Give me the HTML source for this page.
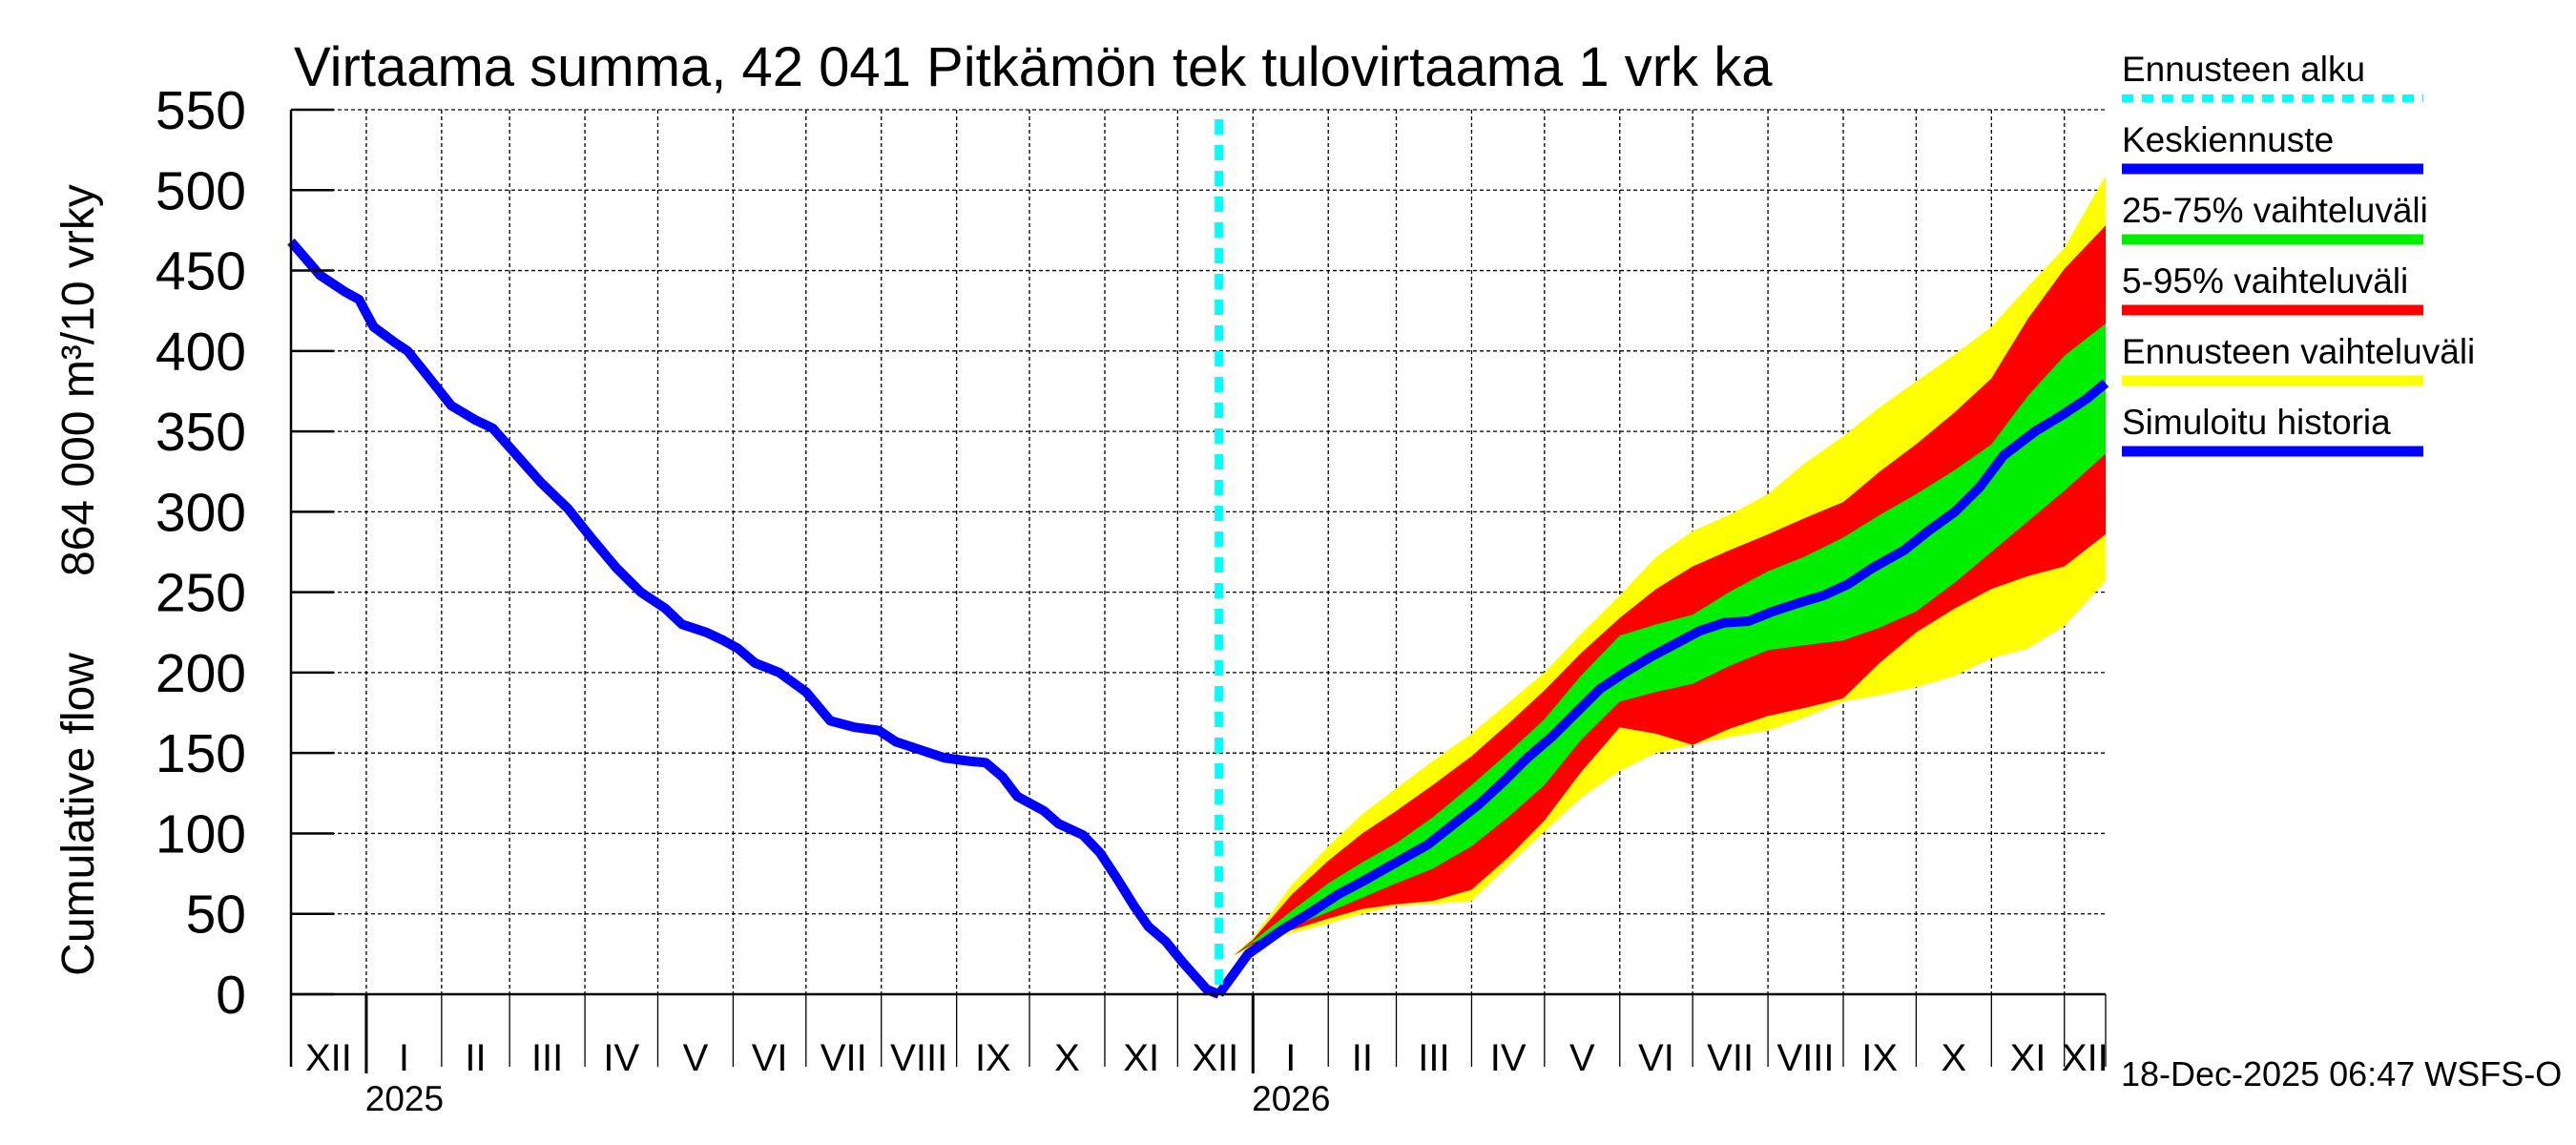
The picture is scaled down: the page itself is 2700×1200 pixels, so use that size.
<!DOCTYPE html>
<html><head><meta charset="utf-8"><style>
html,body{margin:0;padding:0;background:#fff;}
svg{display:block;font-family:"Liberation Sans",Arial,sans-serif;}
</style></head><body>
<svg id="chart" width="2700" height="1200" viewBox="0 0 2700 1200" xmlns="http://www.w3.org/2000/svg">
<text x="308" y="90" font-size="58">Virtaama summa, 42 041 Pitkämön tek tulovirtaama 1 vrk ka</text>
<text transform="translate(98,608) rotate(-90)" text-anchor="middle" font-size="48" xml:space="preserve">Cumulative flow      864 000 m³/10 vrky</text>
<g id="grid"></g>
<g id="bands"></g>
<g id="lines"></g>
<g id="axes"></g>
<g id="legend"></g>
<text x="2223" y="1138" font-size="36">18-Dec-2025 06:47 WSFS-O</text>
</svg>
<script>
// ---- data ----
const yTicks = [0,50,100,150,200,250,300,350,400,450,500,550];
const monthStarts = [0,31,62,90,121,151,182,212,243,274,304,335,365,396,427,455,486,516,547,577,608,639,669,700,730,747];
const monthLabels = ["XII","I","II","III","IV","V","VI","VII","VIII","IX","X","XI","XII","I","II","III","IV","V","VI","VII","VIII","IX","X","XI","XII"];
const yearLabels = ["2025","2026"];
const yearDays = [31,396];
const forecastStartDay = 382;
const histDays = [0,12,22,28,34,43,48,56,66,76,83,93,103,114,124,134,144,154,161,171,178,184,191,201,212,222,232,242,249,259,269,279,286,293,299,310,316,326,333,340,347,353,360,367,377,382];
const histValues = [468,447,437,432,415,405,400,385,366,357,352,335,318,302,283,265,250,240,230,225,220,215,206,200,188,170,166,164,157,152,147,145,144,135,123,114,106,99,88,72,55,42,33,20,3,0];
const medDays = [382,394,408,421,431,441,455,468,478,489,499,509,519,529,539,549,560,570,580,590,600,610,620,631,641,651,664,674,685,695,705,718,729,739,747];
const medValues = [0,25,40,52,62,70,82,93,105,118,132,147,160,175,190,200,210,218,226,231,232,238,243,248,255,265,276,288,300,315,335,350,360,370,380];
const bandDays = [388,396,412,427,441,455,470,486,501,516,531,547,562,577,592,608,623,639,654,669,685,700,715,730,747];
const yellowTop = [24,35,68,92,112,128,145,162,181,200,224,248,272,288,298,311,330,347,365,381,398,415,440,464,509];
const redTop    = [24,34,62,83,100,114,130,148,168,189,212,234,252,266,276,286,296,306,325,342,362,383,420,451,478];
const greenTop  = [24,33,52,69,82,94,110,130,150,171,198,223,230,236,250,263,272,284,298,311,326,342,372,397,417];
const greenBot  = [24,32,42,51,60,69,78,92,110,130,158,182,188,193,204,214,217,220,228,238,256,275,294,313,336];
const redBot    = [24,31,40,47,53,56,58,65,85,108,138,166,162,155,165,173,178,184,206,225,240,252,260,266,286];
const yellowBot = [24,30,38,44,50,55,56,58,80,101,122,139,150,155,160,164,172,182,186,191,198,209,215,229,257];

// ---- scales ----
const X0=305, X1=2207, Y0=1042, YT=115, DMAX=747, VMAX=550;
const xs = d => X0 + d*(X1-X0)/DMAX;
const ys = v => Y0 - v*(Y0-YT)/VMAX;
const NS="http://www.w3.org/2000/svg";
function mk(tag, parent, attrs){const e=document.createElementNS(NS,tag);for(const k in attrs)e.setAttribute(k,attrs[k]);parent.appendChild(e);return e;}
const grid=document.getElementById('grid'), bands=document.getElementById('bands'), lines=document.getElementById('lines'), axes=document.getElementById('axes'), legend=document.getElementById('legend');

yTicks.forEach(v=>{
  if(v>0){const g=mk('line',grid,{x1:X0,x2:X1,y1:ys(v),y2:ys(v),stroke:'#000','stroke-width':1.3,'stroke-dasharray':'4,3'});
  
  }
  const t=mk('line',axes,{x1:X0,x2:X0+45,y1:ys(v),y2:ys(v),stroke:'#000','stroke-width':2.5});
  
  
  const l=mk('text',axes,{x:258,y:ys(v)+20,'text-anchor':'end','font-size':57});
  l.textContent=v;
  
  
});
monthStarts.forEach((d,i)=>{
  if(d>0&&d<DMAX){const g=mk('line',grid,{x1:xs(d),x2:xs(d),y1:YT,y2:Y0,stroke:'#000','stroke-width':1.3,'stroke-dasharray':'4,3'});
  
  }
  const isYear=yearDays.indexOf(d)>=0;
  const s=mk('line',axes,{x1:xs(d),x2:xs(d),y1:Y0,y2:isYear?1125:1118,stroke:'#000','stroke-width':isYear?3:1.3});
  
  
  if(i<monthLabels.length){
    const t=mk('text',axes,{x:(xs(d)+xs(monthStarts[i+1]))/2,y:1122,'text-anchor':'middle','font-size':40});
    t.textContent=monthLabels[i];
    
    
  }
});
yearDays.forEach((d,i)=>{
  const t=mk('text',axes,{x:xs(d)+40,y:1164,'text-anchor':'middle','font-size':37});
  t.textContent=yearLabels[i];
  
  
});
const ax1=mk('line',axes,{x1:X0,x2:X0,y1:YT,y2:1118,stroke:'#000','stroke-width':2.5});


const ax2=mk('line',axes,{x1:X0,x2:X1,y1:Y0,y2:Y0,stroke:'#000','stroke-width':2.5});



function band(top,bot,color,name){
  let p=bandDays.map((d,i)=>xs(d)+','+ys(top[i])).join(' ');
  p+=' '+bandDays.slice().reverse().map((d,j)=>{const i=bandDays.length-1-j;return xs(d)+','+ys(bot[i]);}).join(' ');
  const e=mk('polygon',bands,{points:p,fill:color});
  
  
}
band(yellowTop,yellowBot,'#ffff00','band-full-range');
band(redTop,redBot,'#ff0000','band-5-95');
band(greenTop,greenBot,'#00ee00','band-25-75');

function line(days,vals,name){
  const e=mk('polyline',lines,{points:days.map((d,i)=>xs(d)+','+ys(vals[i])).join(' '),fill:'none',stroke:'#0000ff','stroke-width':10,'stroke-linejoin':'round'});
  
  
}
line(histDays,histValues,'simulated-history-line');
line(medDays,medValues,'median-forecast-line');
const fs=mk('line',lines,{x1:xs(forecastStartDay),x2:xs(forecastStartDay),y1:125,y2:Y0,stroke:'#00ffff','stroke-width':9,'stroke-dasharray':'16,11'});



const legItems=[["Ennusteen alku","#00ffff",true],["Keskiennuste","#0000ff",false],["25-75% vaihteluväli","#00ee00",false],["5-95% vaihteluväli","#ff0000",false],["Ennusteen vaihteluväli","#ffff00",false],["Simuloitu historia","#0000ff",false]];
legItems.forEach((it,i)=>{
  const y=i*74;
  const t=mk('text',legend,{x:2224,y:85+y,'font-size':37});
  t.textContent=it[0];
  
  
  const l=mk('line',legend,{x1:2224,x2:2540,y1:103+y,y2:103+y,stroke:it[1],'stroke-width':it[2]?8:11});
  if(it[2]) l.setAttribute('stroke-dasharray','12,9');
  
  
});
</script>
</body></html>
